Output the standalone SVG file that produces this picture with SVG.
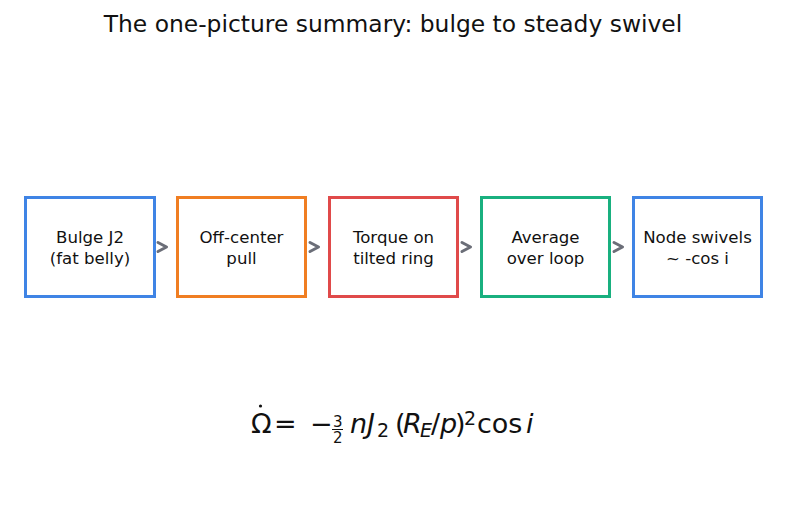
<svg xmlns="http://www.w3.org/2000/svg" width="787" height="510" viewBox="0 0 787 510">
<defs>
<style>
.box{fill:#fff;stroke-width:3}
.lbl{font-family:"DejaVu Sans",sans-serif;font-size:16.6px;fill:#111;text-anchor:middle}
.arr{fill:none;stroke:#6b6e78;stroke-width:3;stroke-linecap:round;stroke-linejoin:round}
.m{font-family:"DejaVu Sans",sans-serif;fill:#111}
.b{font-size:27px}
.s{font-size:19px}
.f{font-size:15px}
.i{font-style:italic}
</style>
</defs>
<rect width="787" height="510" fill="#fff"/>
<text x="393" y="32" class="m" font-size="23.4" text-anchor="middle">The one-picture summary: bulge to steady swivel</text>
<g id="n1"><rect class="box" x="25.5" y="197.5" width="129" height="99" stroke="#3f84e5"/><text class="lbl" x="90" y="243">Bulge J2</text><text class="lbl" x="90" y="264">(fat belly)</text></g>
<g id="n2"><rect class="box" x="177.5" y="197.5" width="128" height="99" stroke="#f07e22"/><text class="lbl" x="241.5" y="243">Off-center</text><text class="lbl" x="241.5" y="264">pull</text></g>
<g id="n3"><rect class="box" x="329.5" y="197.5" width="128" height="99" stroke="#e04a4a"/><text class="lbl" x="393.5" y="243">Torque on</text><text class="lbl" x="393.5" y="264">tilted ring</text></g>
<g id="n4"><rect class="box" x="481.5" y="197.5" width="128" height="99" stroke="#19b07f"/><text class="lbl" x="545.5" y="243">Average</text><text class="lbl" x="545.5" y="264">over loop</text></g>
<g id="n5"><rect class="box" x="633.5" y="197.5" width="128" height="99" stroke="#3f84e5"/><text class="lbl" x="697.5" y="243">Node swivels</text><text class="lbl" x="697.5" y="264">~ -cos i</text></g>
<g id="connectors">
<path class="arr" d="M158 242.5 L166.5 247 L158 251.5"/>
<path class="arr" d="M310 242.5 L318.5 247 L310 251.5"/>
<path class="arr" d="M462 242.5 L470.5 247 L462 251.5"/>
<path class="arr" d="M614 242.5 L622.5 247 L614 251.5"/>
</g>
<g id="formula">
<circle cx="260.5" cy="406" r="1.6" fill="#111"/>
<line x1="332" y1="429.5" x2="343" y2="429.5" stroke="#111" stroke-width="1"/>
<text class="m b"><tspan x="251" y="433">Ω</tspan><tspan x="274" y="433">=</tspan><tspan x="310" y="433">−</tspan><tspan class="f" x="333" y="427">3</tspan><tspan class="f" x="333" y="443">2</tspan><tspan class="i" x="350" y="433">n</tspan><tspan class="i" x="367" y="433">J</tspan><tspan class="s" x="377" y="437">2</tspan><tspan x="395" y="433">(</tspan><tspan class="i" x="403" y="433">R</tspan><tspan class="s i" x="420" y="437">E</tspan><tspan x="431" y="433">/</tspan><tspan class="i" x="440" y="433">p</tspan><tspan x="455" y="433">)</tspan><tspan class="s" x="464" y="425">2</tspan><tspan x="477" y="433">cos</tspan><tspan class="i" x="526" y="433">i</tspan></text>
</g>
</svg>
